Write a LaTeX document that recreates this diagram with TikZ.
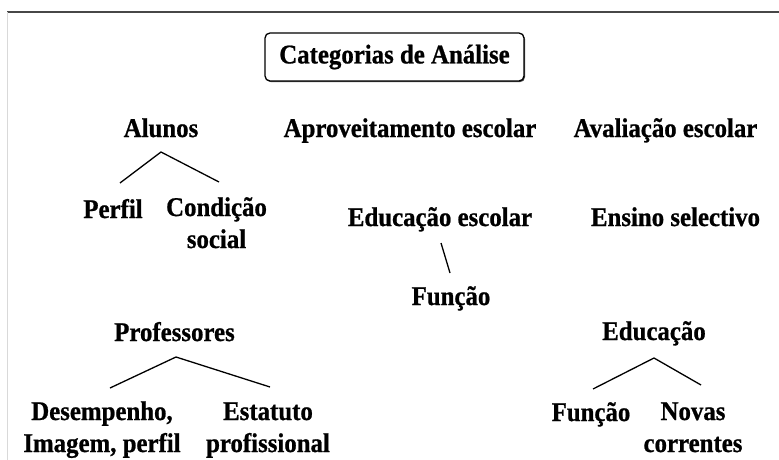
\documentclass[tikz,border=0pt]{standalone}
\usepackage{fontspec}
\setmainfont{Liberation Serif}
\newfontfamily\heavy{Liberation Serif Bold}[FakeBold=0.8, FakeStretch=0.92]
\usetikzlibrary{shadows}
\begin{document}
\begin{tikzpicture}[x=1pt,y=-1pt,
  lbl/.style={font=\fontsize{27}{32}\heavy, inner sep=0pt, anchor=base, align=center},
  branch/.style={line width=1.3pt, black},
  titlebox/.style={draw, line width=1.3pt, rounded corners=5pt, fill=white, minimum width=259pt, minimum height=48pt, inner sep=0pt,
    drop shadow={shadow xshift=1pt, shadow yshift=-1.2pt, fill=black!70, opacity=1}}]
\useasboundingbox (0,0) rectangle (779,460);
\fill[white] (0,0) rectangle (779,460);
% frame lines
\coordinate (fTL) at (7,12);
\coordinate (fTR) at (779,12);
\coordinate (fBL) at (7,460);
\draw[line width=2pt, black!72] (fTL) -- (fTR);
\draw[line width=1pt, black!15] (fTL) -- (fBL);

% title
\node[titlebox, font=\fontsize{27}{32}\heavy] (title) at (394.5,57) {Categorias de Análise};

% top row
\node[lbl] (alunos) at (161,137) {Alunos};
\node[lbl] (aprov) at (410,137) {Aproveitamento escolar};
\node[lbl] (aval) at (665.5,137) {Avaliação escolar};

% Alunos branch
\coordinate (aApex) at (161,152);
\coordinate (aL) at (120,183);
\coordinate (aR) at (219,182);
\draw[branch] (aL) -- (aApex) -- (aR);
\node[lbl] (perfil) at (113,218) {Perfil};
\node[lbl] (condicao) at (216.5,248) {Condição\\social};

% middle row
\node[lbl] (edesc) at (440,226) {Educação escolar};
\node[lbl] (ensino) at (675.5,226) {Ensino selectivo};
\coordinate (eTop) at (441,243);
\coordinate (eBot) at (450,273);
\draw[branch] (eTop) -- (eBot);
\node[lbl] (funcao1) at (451,305) {Função};

% Professores
\node[lbl] (prof) at (174.5,341) {Professores};
\coordinate (pApex) at (176,357);
\coordinate (pL) at (110,388);
\coordinate (pR) at (270,387);
\draw[branch] (pL) -- (pApex) -- (pR);
\node[lbl] (desemp) at (102,452) {Desempenho,\\Imagem, perfil};
\node[lbl] (estat) at (268,452) {Estatuto\\profissional};

% Educação
\node[lbl] (educ) at (654,340) {Educação};
\coordinate (edApex) at (654,358);
\coordinate (edL) at (593,389);
\coordinate (edR) at (701,385);
\draw[branch] (edL) -- (edApex) -- (edR);
\node[lbl] (funcao2) at (591,421) {Função};
\node[lbl] (novas) at (693,452) {Novas\\correntes};
\end{tikzpicture}
\end{document}
